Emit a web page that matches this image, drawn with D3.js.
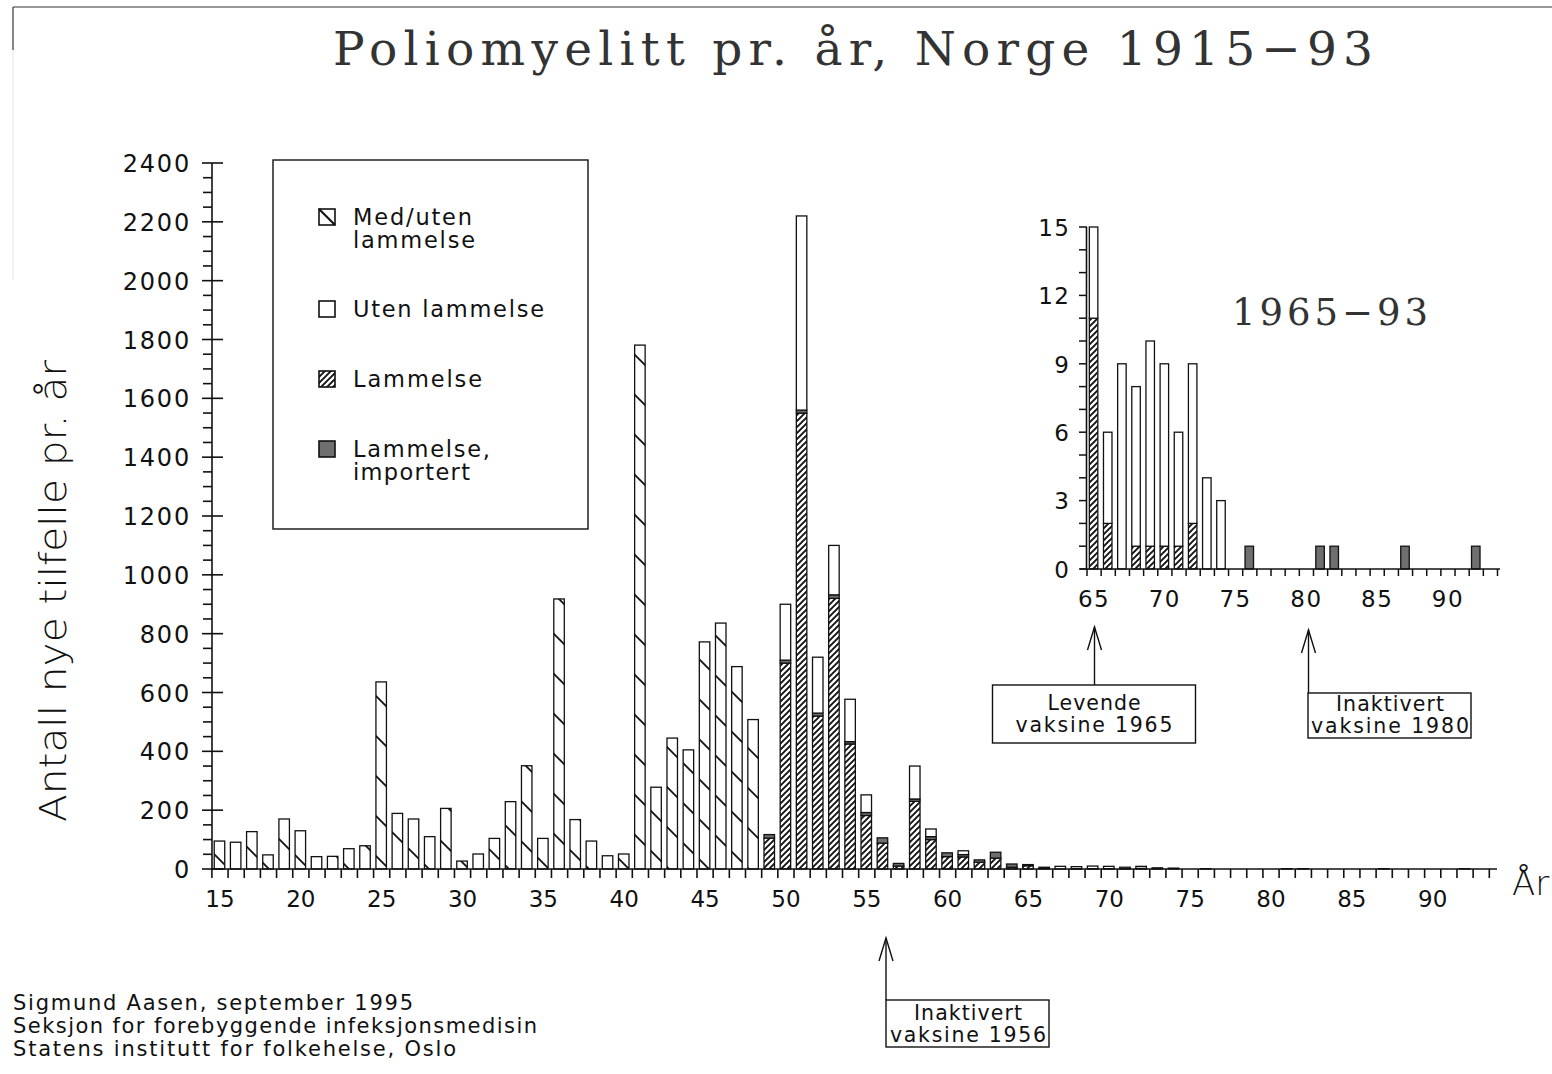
<!DOCTYPE html>
<html><head><meta charset="utf-8">
<script src="https://cdn.jsdelivr.net/npm/d3@7"></script>
<style>body{margin:0;background:#fff}svg{display:block}</style>
</head><body>
<svg id="c" width="1552" height="1074"></svg>
<script>
// ---------- DATA ----------
const firstYear = 1915, lastYear = 1993;
// 1915-1948: "Med/uten lammelse" (not split)
const medUtenStart = 1915;
const medUten = [95,91,127,48,170,130,42,43,69,79,636,189,170,110,206,27,51,104,229,351,104,918,168,95,45,51,1781,278,445,405,772,836,688,508];
// 1949-1993: split series
const splitStart = 1949;
const lammelse = [105,700,1550,520,920,425,182,88,10,230,100,42,41,23,37,6,
                  11,2,0,1,1,1,1,2,0,0,
                  0,0,0,0,0,0,0,0,0,0,0,0,0,0,0,0,0,0,0];
const importert = [12,10,10,10,12,8,10,18,9,8,10,13,8,8,20,11,
                   0,0,0,0,0,0,0,0,0,0,
                   0,1,0,0,0,0,1,1,0,0,0,0,1,0,0,0,0,1,0];
const utenLammelse = [0,190,660,190,168,144,60,0,0,112,26,0,13,0,0,0,
                      4,4,9,7,9,8,5,7,4,3,
                      0,0,0,0,0,0,0,0,0,0,0,0,0,0,0,0,0,0,0];
const yTicks = [0,200,400,600,800,1000,1200,1400,1600,1800,2000,2200,2400];
const xTickLabels = [15,20,25,30,35,40,45,50,55,60,65,70,75,80,85,90];
const insetStart = 1965;
const insetYTicks = [0,3,6,9,12,15];
const insetXTickLabels = [65,70,75,80,85,90];
const legendLabels = [["Med/uten","lammelse"],["Uten lammelse"],["Lammelse"],["Lammelse,","importert"]];
const footerLines = ["Sigmund Aasen, september 1995","Seksjon for forebyggende infeksjonsmedisin","Statens institutt for folkehelse, Oslo"];

// ---------- TABLE ----------
const years = d3.range(firstYear, lastYear + 1);
const table = years.map(yr => {
  const i = yr - medUtenStart, j = yr - splitStart;
  return {
    year: yr,
    medUten: (i >= 0 && i < medUten.length) ? medUten[i] : 0,
    lammelse: j >= 0 ? lammelse[j] : 0,
    importert: j >= 0 ? importert[j] : 0,
    uten: j >= 0 ? utenLammelse[j] : 0
  };
});
const keys = ["medUten","lammelse","importert","uten"];
const stacked = d3.stack().keys(keys)(table);
const GREY = "#6f6f6f";
const fills = {medUten:"url(#pMed)", lammelse:"url(#pLam)", importert:GREY, uten:"#fff"};

const svg = d3.select("#c");
const FONT = "'DejaVu Sans', sans-serif";
const SERIF = "'DejaVu Serif', serif";

// patterns
const defs = svg.append("defs");
const pMed = defs.append("pattern").attr("id","pMed").attr("patternUnits","userSpaceOnUse")
  .attr("width",40).attr("height",40);
pMed.append("rect").attr("width",40).attr("height",40).attr("fill","#fff");
pMed.append("path").attr("d","M-5,-5L45,45M30,-10L50,10M-10,30L10,50").attr("stroke","#111").attr("stroke-width",1.8);
const pLam = defs.append("pattern").attr("id","pLam").attr("patternUnits","userSpaceOnUse")
  .attr("width",6).attr("height",6);
pLam.append("rect").attr("width",6).attr("height",6).attr("fill","#fff");
pLam.append("path").attr("d","M-1,7L7,-1M-1,1L1,-1M5,7L7,5").attr("stroke","#111").attr("stroke-width",1.9);

// frame bits
svg.append("line").attr("x1",13).attr("y1",7).attr("x2",1552).attr("y2",7).attr("stroke","#333").attr("stroke-width",1.2);
svg.append("line").attr("x1",13).attr("y1",7).attr("x2",13).attr("y2",50).attr("stroke","#333").attr("stroke-width",1.2);
svg.append("line").attr("x1",13).attr("y1",50).attr("x2",13).attr("y2",280).attr("stroke","#e4e4e4").attr("stroke-width",1);

// title
svg.append("text").attr("x",333).attr("y",65).attr("font-family",SERIF).attr("font-weight","normal")
  .attr("font-size",47).attr("textLength",1040).attr("lengthAdjust","spacing")
  .attr("fill","#333").text("Poliomyelitt pr. år, Norge 1915\u221293");

// ---------- MAIN CHART ----------
const x = d3.scaleLinear().domain([firstYear - 0.5, lastYear + 0.5]).range([211.4, 1488.8]);
const y = d3.scaleLinear().domain([0, 2400]).range([869, 163]);
const bw = 10.5;

const gBars = svg.append("g");
stacked.forEach(s => {
  gBars.selectAll(null).data(s.filter(d => d[1] - d[0] > 0)).enter().append("rect")
    .attr("x", d => x(d.data.year) - bw/2)
    .attr("y", d => y(d[1]))
    .attr("width", bw)
    .attr("height", d => y(d[0]) - y(d[1]))
    .attr("fill", fills[s.key])
    .attr("stroke","#111").attr("stroke-width",1.3);
});

// x axis
const xb = d3.range(firstYear - 0.5, lastYear + 1, 1);
const gx = svg.append("g").attr("transform","translate(0,869)")
  .call(d3.axisBottom(x).tickValues(xb).tickSize(9).tickFormat("").tickSizeOuter(0));
gx.select(".domain").remove();
gx.selectAll(".tick line").attr("stroke","#111").attr("stroke-width",1.6);
svg.append("line").attr("x1",211).attr("x2",1497).attr("y1",869).attr("y2",869).attr("stroke","#111").attr("stroke-width",1.6);
const gxl = svg.append("g").attr("transform","translate(0,869)")
  .call(d3.axisBottom(x).tickValues(xTickLabels.map(v => 1900 + v)).tickSize(0).tickPadding(22).tickFormat(v => String(v - 1900)));
gxl.select(".domain").remove();
gxl.selectAll("text").attr("font-family",FONT).attr("font-size",23).attr("fill","#111");

// y axis
const gy = svg.append("g").attr("transform","translate(212,0)")
  .call(d3.axisLeft(y).tickValues(yTicks).tickSize(0).tickPadding(21).tickFormat(d3.format("d")));
gy.select(".domain").remove();
gy.selectAll("text").attr("font-family",FONT).attr("font-size",24).attr("letter-spacing",1.8).attr("fill","#111").attr("dy","0.36em");
svg.append("line").attr("x1",212).attr("x2",212).attr("y1",163).attr("y2",869).attr("stroke","#111").attr("stroke-width",1.6);
const minorY = d3.range(0, 2401, 50);
svg.append("g").selectAll("line").data(minorY).enter().append("line")
  .attr("x1", v => v % 200 === 0 ? 202 : 203).attr("x2", v => v % 200 === 0 ? 223 : 212)
  .attr("y1", v => y(v)).attr("y2", v => y(v)).attr("stroke","#111").attr("stroke-width",1.6);

// axis titles
svg.append("text").attr("transform","translate(66,822) rotate(-90)")
  .attr("font-family",FONT).attr("font-weight",200).attr("font-size",38)
  .attr("textLength",462).attr("lengthAdjust","spacingAndGlyphs").attr("fill","#111")
  .text("Antall nye tilfelle pr. år");
svg.append("text").attr("x",1512).attr("y",895).attr("font-family",FONT).attr("font-weight",200)
  .attr("font-size",34).attr("fill","#111").text("År");

// legend
svg.append("rect").attr("x",273).attr("y",160).attr("width",315).attr("height",369)
  .attr("fill","#fff").attr("stroke","#111").attr("stroke-width",1.4);
const legendY = [209, 301, 371, 441];
const legendFills = ["#fff","#fff","url(#pLam)",GREY];
const legendLens = [[119,122],[191],[129],[137,117]];
legendLabels.forEach((lines, i) => {
  svg.append("rect").attr("x",319).attr("y",legendY[i]).attr("width",16).attr("height",16)
    .attr("fill",legendFills[i]).attr("stroke","#111").attr("stroke-width",1.6);
  if (i === 0) svg.append("line").attr("x1",319).attr("y1",legendY[i]).attr("x2",335).attr("y2",legendY[i]+16)
    .attr("stroke","#111").attr("stroke-width",2.2);
  lines.forEach((t, k) => {
    svg.append("text").attr("x",353).attr("y",legendY[i] + 16 + k*23)
      .attr("font-family",FONT).attr("font-size",22.5).attr("textLength",legendLens[i][k]).attr("lengthAdjust","spacing")
      .attr("fill","#111").text(t);
  });
});

// ---------- INSET ----------
const xi = d3.scaleLinear().domain([insetStart - 0.5, lastYear + 0.5]).range([1086.5, 1497]);
const yi = d3.scaleLinear().domain([0, 15]).range([569, 227]);
const bwi = 8.5;
const gIn = svg.append("g");
stacked.forEach(s => {
  gIn.selectAll(null).data(s.filter(d => d.data.year >= insetStart && d[1] - d[0] > 0)).enter().append("rect")
    .attr("x", d => xi(d.data.year) - bwi/2)
    .attr("y", d => yi(d[1]))
    .attr("width", bwi)
    .attr("height", d => yi(d[0]) - yi(d[1]))
    .attr("fill", fills[s.key])
    .attr("stroke","#111").attr("stroke-width",1.3);
});
const xbi = d3.range(insetStart - 0.5, lastYear + 1, 1);
const gxi = svg.append("g").attr("transform","translate(0,569)")
  .call(d3.axisBottom(xi).tickValues(xbi).tickSize(7).tickFormat("").tickSizeOuter(0));
gxi.select(".domain").remove();
gxi.selectAll(".tick line").attr("stroke","#111").attr("stroke-width",1.5);
svg.append("line").attr("x1",1080).attr("x2",1500).attr("y1",569).attr("y2",569).attr("stroke","#111").attr("stroke-width",1.6);
const gxil = svg.append("g").attr("transform","translate(0,569)")
  .call(d3.axisBottom(xi).tickValues(insetXTickLabels.map(v => 1900 + v)).tickSize(0).tickPadding(22).tickFormat(v => String(v - 1900)));
gxil.select(".domain").remove();
gxil.selectAll("text").attr("font-family",FONT).attr("font-size",23).attr("letter-spacing",1.5).attr("fill","#111");

const gyi = svg.append("g").attr("transform","translate(1086.5,0)")
  .call(d3.axisLeft(yi).tickValues(insetYTicks).tickSize(0).tickPadding(16));
gyi.select(".domain").remove();
gyi.selectAll("text").attr("font-family",FONT).attr("font-size",23).attr("letter-spacing",1.5).attr("fill","#111").attr("dy","0.36em");
svg.append("line").attr("x1",1086.5).attr("x2",1086.5).attr("y1",227).attr("y2",569).attr("stroke","#111").attr("stroke-width",1.6);
svg.append("g").selectAll("line").data(d3.range(0, 16, 1)).enter().append("line")
  .attr("x1",1079).attr("x2",1087).attr("y1", v => yi(v)).attr("y2", v => yi(v))
  .attr("stroke","#111").attr("stroke-width",1.5);
svg.append("text").attr("x",1232).attr("y",325).attr("font-family",SERIF).attr("font-weight","normal")
  .attr("font-size",37).attr("textLength",196).attr("lengthAdjust","spacing")
  .attr("fill","#333").text("1965\u221293");

// ---------- ANNOTATIONS ----------
function annot(ax, tipY, bx, by, bw2, bh, lines, cx, base, lens) {
  svg.append("line").attr("x1",ax).attr("x2",ax).attr("y1",tipY).attr("y2",by).attr("stroke","#111").attr("stroke-width",1.4);
  svg.append("path").attr("d",`M${ax-7},${tipY+23}L${ax},${tipY}L${ax+7},${tipY+23}`)
    .attr("fill","none").attr("stroke","#111").attr("stroke-width",1.4);
  svg.append("rect").attr("x",bx).attr("y",by).attr("width",bw2).attr("height",bh)
    .attr("fill","#fff").attr("stroke","#111").attr("stroke-width",1.4);
  lines.forEach((t, k) => {
    svg.append("text").attr("x",cx).attr("y",base[k]).attr("text-anchor","middle")
      .attr("font-family",FONT).attr("font-size",20.5).attr("textLength",lens[k]).attr("lengthAdjust","spacing")
      .attr("fill","#111").text(t);
  });
}
annot(886, 938, 886, 1000, 163, 47, ["Inaktivert","vaksine 1956"], 968, [1020, 1042], [108, 156]);
annot(1094.5, 627, 992.5, 685, 203, 58, ["Levende","vaksine 1965"], 1094, [710, 732], [93, 157]);
annot(1308.5, 630, 1308, 693, 163, 45, ["Inaktivert","vaksine 1980"], 1390, [711, 733], [108, 158]);

// footer
const footerLens = [400, 524, 443];
footerLines.forEach((t, k) => {
  svg.append("text").attr("x",13).attr("y",1010 + k*23).attr("font-family",FONT).attr("font-size",21)
    .attr("textLength",footerLens[k]).attr("lengthAdjust","spacing").attr("fill","#111").text(t);
});
</script>
</body></html>
